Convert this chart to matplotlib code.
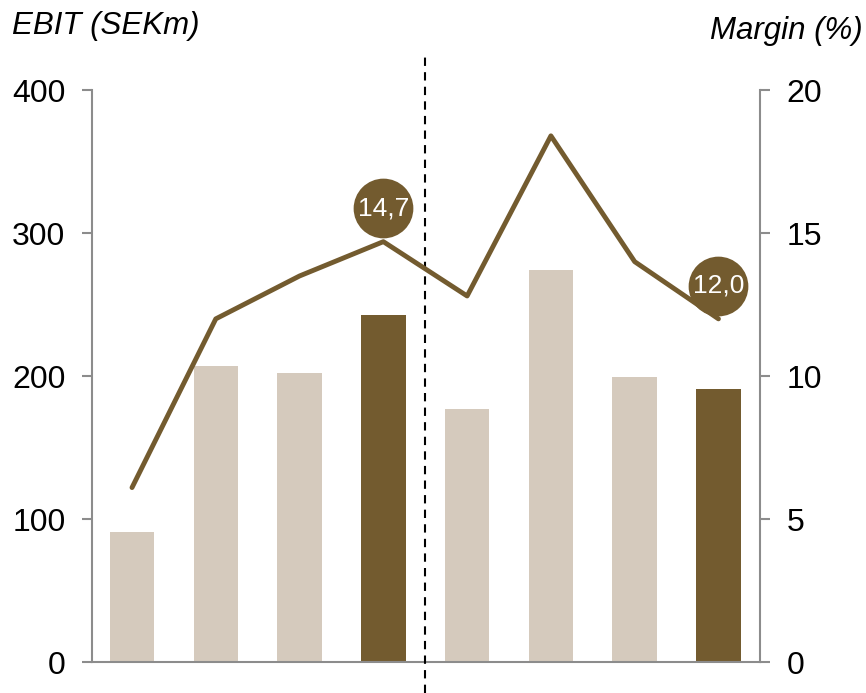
import matplotlib.pyplot as plt
import matplotlib.transforms as mtransforms
import numpy as np

plt.rcParams['font.family'] = ['Liberation Sans', 'DejaVu Sans']

# ===== 資料 =====
ebit = [91, 207, 202, 243, 177, 274, 199, 191]
margin = [6.1, 12.0, 13.5, 14.7, 12.8, 18.4, 14.0, 12.0]
highlight = [False, False, False, True, False, False, False, True]
label_idx = [3, 7]
label_txt = ["14,7", "12,0"]

dark = "#735b2f"
light = "#d5cabd"
grey = "#8c8c8c"

fig = plt.figure(figsize=(8.66, 6.93), dpi=100)
ax = fig.add_axes([0.106, 0.0447, 0.772, 0.8253])
ax2 = ax.twinx()

x = np.arange(len(ebit))
cols = [dark if h else light for h in highlight]
ax.bar(x, ebit, width=0.53, color=cols, zorder=2)

ax.set_xlim(-0.48, 7.5)
ax.set_ylim(0, 400)
ax.set_yticks([0, 100, 200, 300, 400])
ax2.set_ylim(0, 20)
ax2.set_yticks([0, 5, 10, 15, 20])
ax.set_xticks([])

for a in (ax, ax2):
    a.spines['top'].set_visible(False)
    for s in ('left', 'right', 'bottom'):
        a.spines[s].set_color(grey)
        a.spines[s].set_linewidth(1.5)
ax.spines['right'].set_visible(False)
ax2.spines['left'].set_visible(False)
ax2.spines['bottom'].set_visible(False)

ax.tick_params(axis='y', length=7, width=1.5, color=grey, labelsize=23, pad=12)
ax2.tick_params(axis='y', length=7, width=1.5, color=grey, labelsize=23, pad=12)

ax2.plot(x, margin, color=dark, lw=3.5, zorder=3, solid_capstyle='round')

# 標籤圓圈
trans = mtransforms.offset_copy(ax2.transData, fig=fig, x=0, y=24, units='points')
for i, t in zip(label_idx, label_txt):
    ax2.plot(x[i], margin[i], 'o', ms=43, color=dark, mec='none', transform=trans, zorder=4)
    ax2.text(x[i], margin[i], t, color='white', fontsize=19, ha='center', va='center',
             transform=trans, zorder=5)

# 虛線分隔
ax2.axvline(3.5, ymin=-0.055, ymax=1.062, color='black', lw=1.5, ls=(0, (4, 3)),
            clip_on=False, zorder=1)

fig.text(0.014, 0.962, "EBIT (SEKm)", fontsize=22.5, style='italic', ha='left', va='center')
fig.text(0.996, 0.955, "Margin (%)", fontsize=22.5, style='italic', ha='right', va='center')

fig.savefig("out.png", dpi=100)
